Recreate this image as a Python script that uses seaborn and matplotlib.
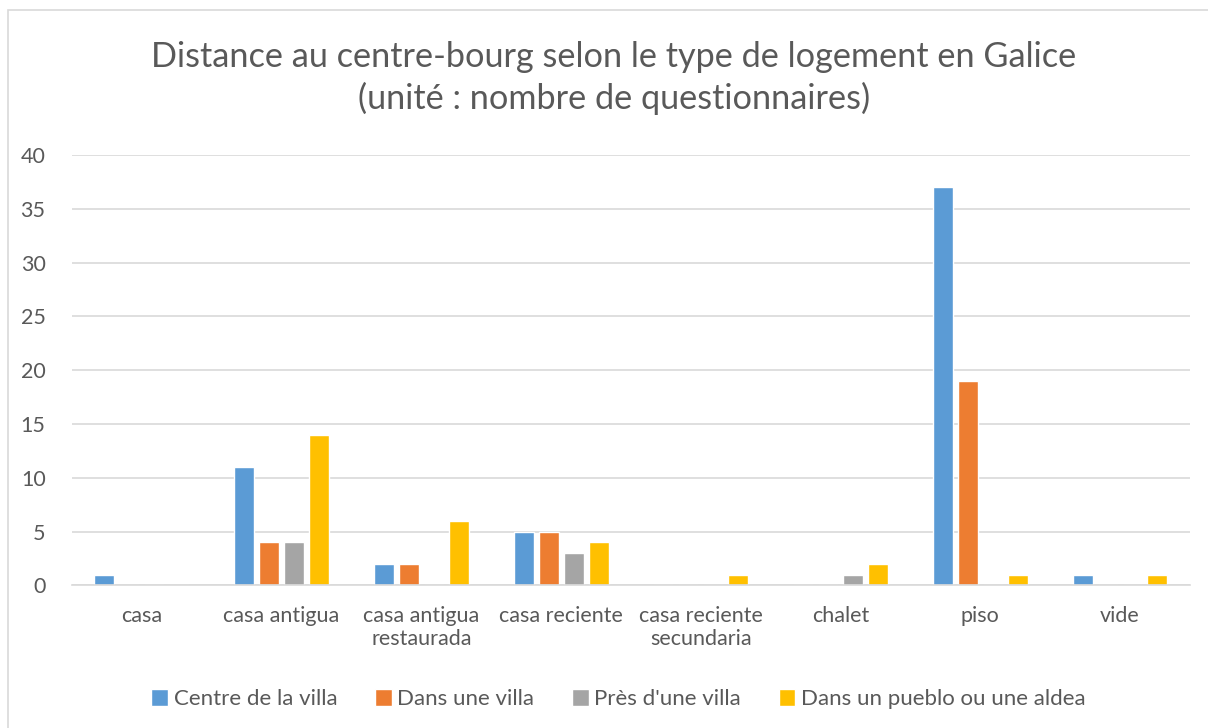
import matplotlib
matplotlib.use("Agg")
import matplotlib.pyplot as plt
import seaborn as sns
import pandas as pd
from matplotlib.patches import Rectangle

categories = ["casa", "casa antigua", "casa antigua\nrestaurada", "casa reciente",
              "casa reciente\nsecundaria", "chalet", "piso", "vide"]
series_names = ["Centre de la villa", "Dans une villa", "Près d'une villa",
                "Dans un pueblo ou une aldea"]
centre_villa = [1, 11, 2, 5, 0, 0, 37, 1]
dans_villa = [0, 4, 2, 5, 0, 0, 19, 0]
pres_villa = [0, 4, 0, 3, 0, 1, 0, 0]
pueblo_aldea = [0, 14, 6, 4, 1, 2, 1, 1]
colors = ["#5B9BD5", "#ED7D31", "#A5A5A5", "#FFC000"]
yticks = [0, 5, 10, 15, 20, 25, 30, 35, 40]
title = "Distance au centre-bourg selon le type de logement en Galice\n(unité : nombre de questionnaires)"

rows = []
for name, vals in zip(series_names, [centre_villa, dans_villa, pres_villa, pueblo_aldea]):
    for cat, v in zip(categories, vals):
        rows.append({"type": cat, "serie": name, "n": v})
df = pd.DataFrame(rows)

sns.set_theme(style="white")
plt.rcParams["font.family"] = ["Lato", "DejaVu Sans"]
text_col = "#595959"

fig = plt.figure(figsize=(12.08, 7.28), dpi=100)
ax = fig.add_axes([0.0596, 0.196, 0.9254, 0.591])

sns.barplot(data=df, x="type", y="n", hue="serie", order=categories,
            hue_order=series_names, palette=colors, width=0.715, gap=0.2,
            saturation=1, ax=ax, legend=True)

ax.set_ylim(0, 40)
ax.set_xlim(-0.5, len(categories) - 0.5)
ax.set_yticks(yticks)
ax.yaxis.grid(True, color="#D9D9D9", linewidth=1.2)
ax.set_axisbelow(True)
for s in ["top", "right", "left"]:
    ax.spines[s].set_visible(False)
ax.spines["bottom"].set_color("#D9D9D9")
ax.spines["bottom"].set_linewidth(1.2)
ax.tick_params(axis="both", length=0, labelsize=15.5, colors=text_col)
ax.tick_params(axis="x", pad=15)
ax.tick_params(axis="y", pad=19)
ax.set_xlabel("")
ax.set_ylabel("")

handles, labels = ax.get_legend_handles_labels()
ax.legend_.remove()
fig.legend(handles, labels, loc="center", bbox_to_anchor=(0.512, 0.04), ncol=4,
           frameon=False, fontsize=16, labelcolor=text_col, handlelength=0.75,
           handleheight=0.8, handletextpad=0.25, columnspacing=1.7)

fig.text(0.508, 0.893, title, ha="center", va="center", fontsize=24.7,
         color=text_col, linespacing=1.3)

fig.patches.append(Rectangle((0.007, -0.01), 1.1, 0.996, transform=fig.transFigure,
                             fill=False, edgecolor="#D9D9D9", linewidth=1.2))

fig.savefig("out.png", dpi=100, facecolor="white")
